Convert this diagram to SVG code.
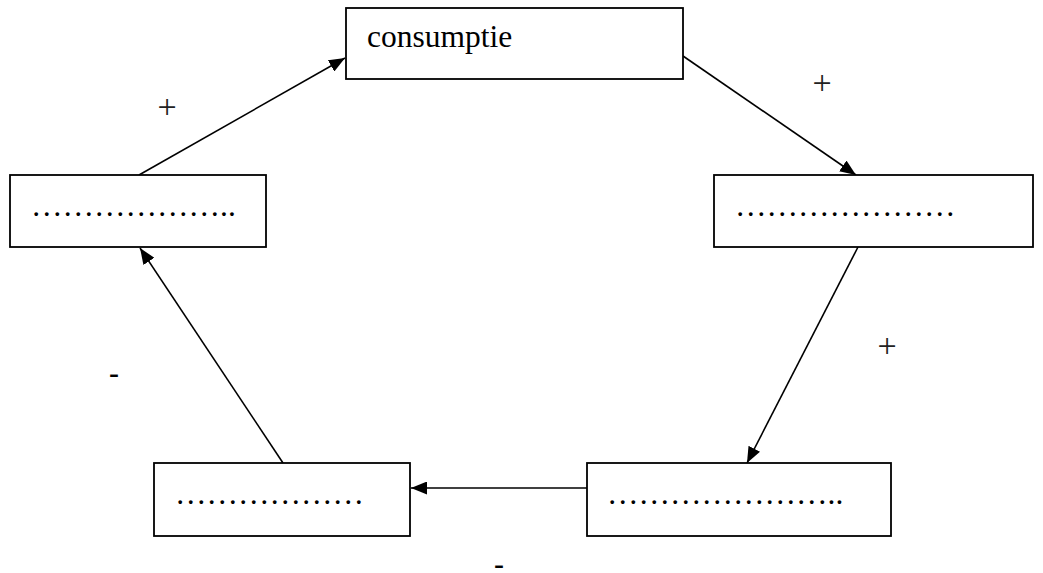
<svg xmlns="http://www.w3.org/2000/svg" width="1043" height="573" viewBox="0 0 1043 573">
<style>
.box{fill:#fff;stroke:#000;stroke-width:1.8}
.lbl{font-family:"Liberation Serif","Times New Roman",serif;font-size:31.5px;fill:#000}
.sgn{font-family:"Liberation Serif","Times New Roman",serif;font-size:34px;fill:#222;text-anchor:middle}
.min{font-family:"Liberation Sans",Arial,sans-serif;font-size:31.5px;fill:#000;text-anchor:middle}
.con{stroke:#000;stroke-width:1.6;fill:none;marker-end:url(#ah)}
</style>
<defs>
<marker id="ah" markerUnits="userSpaceOnUse" viewBox="0 0 16 13" refX="16" refY="6.5" markerWidth="16" markerHeight="13" orient="auto">
<path d="M0,0 L16,6.5 L0,13 Z" fill="#000"/>
</marker>
</defs>
<rect width="1043" height="573" fill="#fff"/>
<g id="connectors">
<line class="con" x1="139" y1="175" x2="345" y2="58"/>
<line class="con" x1="683" y1="56" x2="856" y2="175"/>
<line class="con" x1="858" y1="247" x2="747" y2="463"/>
<line class="con" x1="587" y1="488" x2="411" y2="488"/>
<line class="con" x1="283" y1="463" x2="140" y2="248"/>
</g>
<g id="node-consumptie">
<rect class="box" x="346" y="8" width="337" height="71"/>
<text class="lbl" x="367" y="47">consumptie</text>
</g>
<g id="node-left">
<rect class="box" x="10" y="175" width="256" height="72"/>
<text class="lbl" x="31" y="216">………………..</text>
</g>
<g id="node-right">
<rect class="box" x="714" y="175" width="319" height="72"/>
<text class="lbl" x="735" y="216">…………………</text>
</g>
<g id="node-bottom-left">
<rect class="box" x="154" y="463" width="256" height="73"/>
<text class="lbl" x="175" y="504">………………</text>
</g>
<g id="node-bottom-right">
<rect class="box" x="587" y="463" width="304" height="73"/>
<text class="lbl" x="607" y="504">…………………..</text>
</g>
<g id="labels">
<text class="sgn" x="167" y="118">+</text>
<text class="sgn" x="822" y="94">+</text>
<text class="sgn" x="887" y="357">+</text>
<text class="min" x="114" y="384">-</text>
<text class="min" x="499" y="575">-</text>
</g>
</svg>
